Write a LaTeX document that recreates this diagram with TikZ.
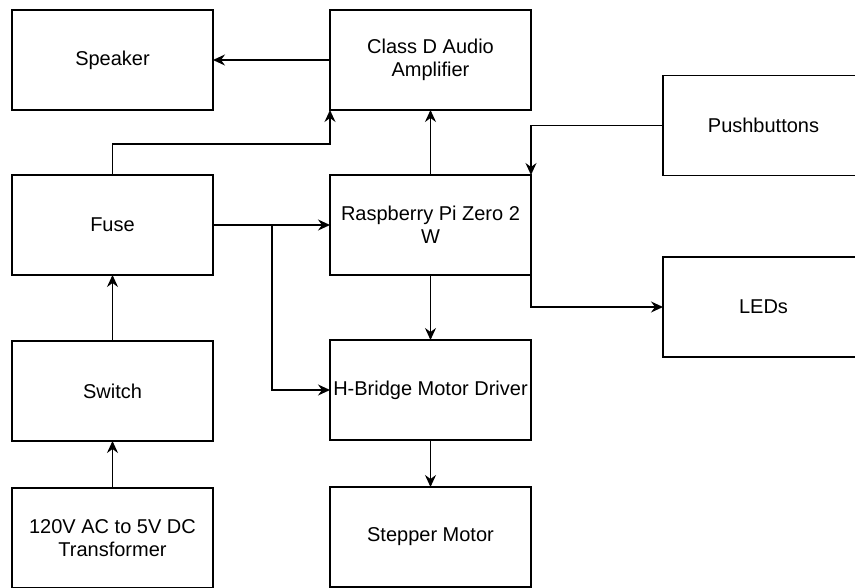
\documentclass[tikz,border=0pt]{standalone}
\usepackage{fontspec}
\setmainfont{Liberation Sans}
\usepackage{tikz}
\usetikzlibrary{arrows.meta, positioning, calc}

\begin{document}
\begin{tikzpicture}[
        x=1pt, y=-1pt,
        block/.style={draw, rectangle, line width=1.3pt, minimum width=201pt, minimum height=100pt, inner sep=0pt, outer sep=0pt, align=center, font=\fontsize{20}{23}\selectfont},
        arrow/.style={line width=1.3pt, -{Stealth[length=12pt, width=11pt, inset=4pt]}}
    ]
        \useasboundingbox (0,0) rectangle (855,588);
        \clip (0,0) rectangle (855,588);

        \node[block] (speaker) at (112.5,60) {Speaker};
        \node[block, right=117pt of speaker] (amplifier) {Class D Audio\\Amplifier};
        \node[block, below=65pt of speaker] (fuse) {Fuse};
        \node[block, below=65pt of amplifier] (pi) {Raspberry Pi Zero 2\\W};
        \node[block, below=66pt of fuse] (switch) {Switch};
        \node[block, below=65pt of pi] (hbridge) {H-Bridge Motor Driver};
        \node[block, below=47pt of switch] (transformer) {120V AC to 5V DC\\Transformer};
        \node[block, below=47pt of hbridge] (stepper) {Stepper Motor};
        \node[block] (pushbuttons) at (763.5,125.5) {Pushbuttons};
        \node[block] (leds) at (763.5,307) {LEDs};

        \draw[arrow] (amplifier) -- (speaker);
        \draw[arrow] (fuse.north) |- ++(0,-31) -| (amplifier.south west);
        \draw[arrow] (pi) -- (amplifier);
        \draw[arrow] (pushbuttons.west) -| (pi.north east);
        \draw[arrow] (fuse) -- (pi);
        \draw[arrow] (fuse.east) -- ++(59,0) |- (hbridge.west);
        \draw[arrow] (pi.south east) |- (leds.west);
        \draw[arrow] (pi) -- (hbridge);
        \draw[arrow] (hbridge) -- (stepper);
        \draw[arrow] (switch) -- (fuse);
        \draw[arrow] (transformer) -- (switch);
    \end{tikzpicture}
\end{document}
